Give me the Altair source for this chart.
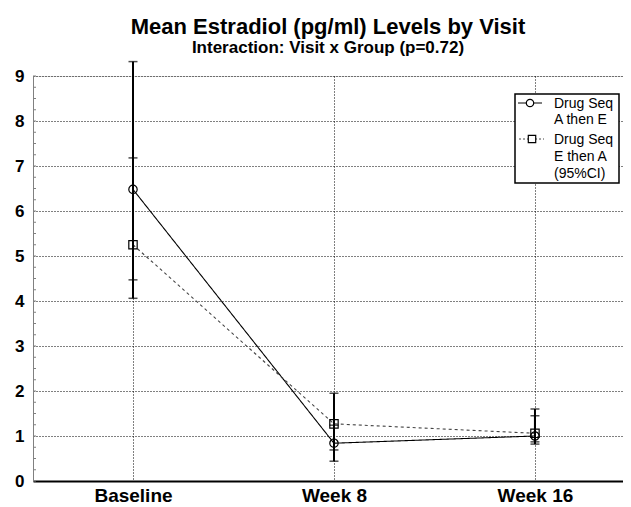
import altair as alt
import pandas as pd

visits = ["Baseline", "Week 8", "Week 16"]
visit_pos = [0, 1, 2]
groups = ["A then E", "E then A"]
mean_a = [6.48, 0.84, 1.00]
lo_a = [4.06, 0.44, 0.82]
hi_a = [9.32, 1.24, 1.45]
mean_e = [5.25, 1.27, 1.06]
lo_e = [4.47, 0.69, 0.87]
hi_e = [7.18, 1.95, 1.60]
y_ticks = list(range(10))
minor_ticks = [i * 0.25 for i in range(37)]

rows = []
for g, m, lo, hi in [(groups[0], mean_a, lo_a, hi_a), (groups[1], mean_e, lo_e, hi_e)]:
    for v, p, mm, l, h in zip(visits, visit_pos, m, lo, hi):
        rows.append(dict(visit=v, pos=p, group=g, mean=mm, lo=l, hi=h))
df = pd.DataFrame(rows)

FONT = "Liberation Sans"

label_expr = "datum.value == 0 ? 'Baseline' : datum.value == 1 ? 'Week 8' : 'Week 16'"
xscale = alt.Scale(domain=[-0.4975, 2.438], nice=False, zero=False)
xenc = alt.X(
    "pos:Q", title=None, scale=xscale,
    axis=alt.Axis(values=visit_pos, labelExpr=label_expr, grid=True, gridDash=[1, 2],
                  gridColor="black", gridOpacity=1,
                  labelFontSize=19, labelFontWeight="bold", labelFont=FONT,
                  labelColor="black", labelAngle=0, labelPadding=5,
                  ticks=False, domainColor="black", domainWidth=2),
)
xs = alt.X("pos:Q", scale=xscale)
yscale = alt.Scale(domain=[0, 9], nice=False, zero=True)
yaxis = alt.Axis(values=y_ticks, grid=True, gridDash=[1, 2], gridColor="black", gridOpacity=1,
                 labelFontSize=17, labelFontWeight="bold", labelFont=FONT, labelColor="black",
                 ticks=False, domainColor="gray", labelPadding=9)

base = alt.Chart(df)

dash = alt.StrokeDash("group:N", scale=alt.Scale(domain=groups, range=[[1, 0], [3, 3]]), legend=None)
col = alt.Color("group:N", scale=alt.Scale(domain=groups, range=["black", "#444444"]), legend=None)

lines = base.mark_line(strokeWidth=1.1).encode(
    x=xenc, y=alt.Y("mean:Q", scale=yscale, axis=yaxis, title=None), strokeDash=dash, color=col,
    detail="group:N",
)
bars = base.mark_rule(color="black", strokeWidth=2).encode(
    x=xs, y=alt.Y("lo:Q", scale=yscale), y2="hi:Q"
)
cap_lo = base.mark_tick(color="black", size=9, thickness=1.5, orient="horizontal").encode(
    x=xs, y=alt.Y("lo:Q", scale=yscale)
)
cap_hi = base.mark_tick(color="black", size=9, thickness=1.5, orient="horizontal").encode(
    x=xs, y=alt.Y("hi:Q", scale=yscale)
)
pts = base.mark_point(filled=False, fill="white", fillOpacity=0, color="black", strokeWidth=1.2, size=70, opacity=1).encode(
    x=xs, y=alt.Y("mean:Q", scale=yscale),
    shape=alt.Shape("group:N", scale=alt.Scale(domain=groups, range=["circle", "square"]), legend=None),
)

minor = alt.Chart(pd.DataFrame({"v": minor_ticks})).mark_rule(color="gray", strokeWidth=1).encode(
    y=alt.Y("v:Q", scale=yscale), x=alt.value(0), x2=alt.value(3)
)

one = pd.DataFrame({"a": [0]})
lg = alt.Chart(one)
leg_box = lg.mark_rect(fill="white", stroke="black", strokeWidth=1.5).encode(
    x=alt.value(482), x2=alt.value(586), y=alt.value(18), y2=alt.value(107)
)
leg_l1 = lg.mark_rule(color="black", strokeWidth=1).encode(x=alt.value(485), x2=alt.value(509), y=alt.value(27))
leg_p1 = lg.mark_point(shape="circle", filled=False, fill="white", fillOpacity=1, color="black", size=55, strokeWidth=1.2).encode(
    x=alt.value(497), y=alt.value(27))
leg_l2 = lg.mark_rule(color="#444444", strokeWidth=1, strokeDash=[2, 2]).encode(x=alt.value(486), x2=alt.value(511), y=alt.value(63))
leg_p2 = lg.mark_point(shape="square", filled=False, fill="white", fillOpacity=1, color="black", size=55, strokeWidth=1.2).encode(
    x=alt.value(499), y=alt.value(63))

legend_texts = ["Drug Seq", "A then E", "Drug Seq", "E then A", "(95%CI)"]
legend_ys = [28, 44, 64, 81, 98]
leg_txt = [
    lg.mark_text(text=t, font=FONT, fontSize=14, align="left", baseline="middle", color="black").encode(
        x=alt.value(521), y=alt.value(yy))
    for t, yy in zip(legend_texts, legend_ys)
]

chart = alt.layer(
    lines, minor, bars, cap_lo, cap_hi, pts, leg_box, leg_l1, leg_p1, leg_l2, leg_p2, *leg_txt
).properties(
    width=590, height=405,
    title=alt.TitleParams(
        text="Mean Estradiol (pg/ml) Levels by Visit",
        subtitle="Interaction: Visit x Group (p=0.72)",
        font=FONT, fontSize=22, fontWeight="bold", color="black",
        subtitleFont=FONT, subtitleFontSize=17, subtitleFontWeight="bold", subtitleColor="black",
        anchor="middle", frame="group", offset=4, subtitlePadding=1,
    ),
    autosize=alt.AutoSizeParams(type="none"),
    padding={"left": 25, "top": 68, "right": 0, "bottom": 25},
).configure_view(stroke="gray", strokeWidth=1).configure(background="white")

chart.save("out.html", embed_options={"renderer": "svg", "actions": False})
